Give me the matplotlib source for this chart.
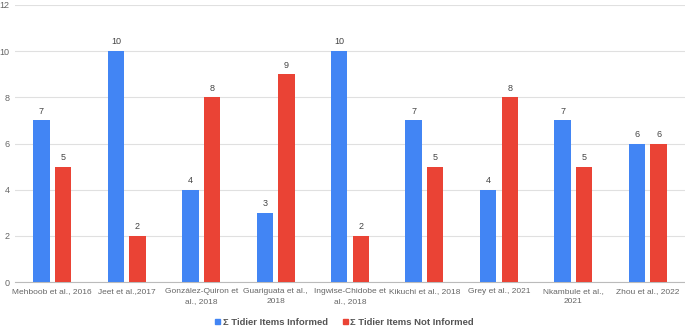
import numpy as np
import matplotlib.pyplot as plt
from matplotlib.patches import Patch

plt.rcParams["font.family"] = ["Liberation Sans", "DejaVu Sans"]

studies = ["Mehboob et al., 2016", "Jeet et al.,2017", "González-Quiron et\nal., 2018",
           "Guariguata et al.,\n2018", "Ingwise-Chidobe et\nal., 2018", "Kikuchi et al., 2018",
           "Grey et al., 2021", "Nkambule et al.,\n2021", "Zhou et al., 2022"]
informed = [7, 10, 4, 3, 10, 7, 4, 7, 6]
not_informed = [5, 2, 8, 9, 2, 5, 8, 5, 6]

blue = "#4285F4"
red = "#EA4335"

fig = plt.figure(figsize=(6.85, 3.28), dpi=100)
ax = fig.add_axes([0.022, 0.14, 0.978, 0.845])

x = np.arange(len(studies))
w = 0.22
b1 = ax.bar(x - 0.145, informed, w, color=blue, zorder=3)
b2 = ax.bar(x + 0.145, not_informed, w, color=red, zorder=3)
for bars in (b1, b2):
    for r in bars:
        ax.text(r.get_x() + r.get_width() / 2, r.get_height() + 0.2, f"{int(r.get_height())}",
                ha="center", va="bottom", fontsize=6.5, color="#444444")

ax.set_xlim(-0.5, len(studies) - 0.5)
ax.set_ylim(0, 12)
ax.set_yticks(range(0, 13, 2))
ax.set_xticks(x)
ax.set_xticklabels(studies, fontsize=6.0, color="#666666", linespacing=1.6)
ax.tick_params(axis="y", labelsize=6.5, labelcolor="#666666", length=0, pad=4)
ax.tick_params(axis="x", length=0, pad=4)
ax.grid(axis="y", color="#e0e0e0", linewidth=0.8, zorder=0)
for s in ["top", "right", "left"]:
    ax.spines[s].set_visible(False)
ax.spines["bottom"].set_color("#bbbbbb")

handles = [Patch(color=blue), Patch(color=red)]
fig.legend(handles, ["Σ Tidier Items Informed", "Σ Tidier Items Not Informed"],
           loc="center", bbox_to_anchor=(0.503, 0.017), ncol=2, frameon=False,
           handlelength=0.5, handleheight=0.5, handletextpad=0.3,
           columnspacing=1.6, labelcolor="#555555", prop={"weight": "bold", "size": 6.8})

fig.savefig("out.png", dpi=100)
